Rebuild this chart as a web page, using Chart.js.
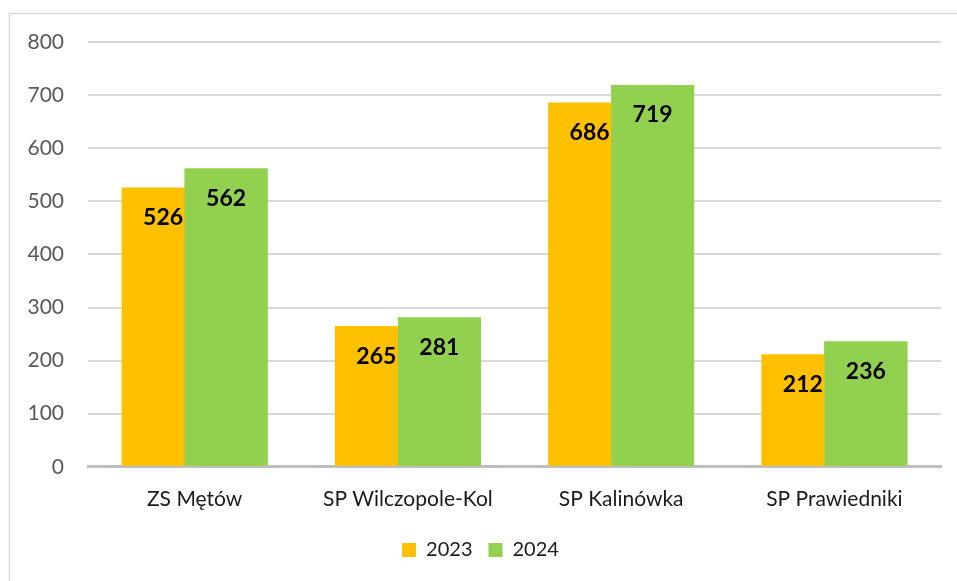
<!DOCTYPE html>
<html>
<head>
<meta charset="utf-8">
<script src="https://cdn.jsdelivr.net/npm/chart.js@4/dist/chart.umd.min.js"></script>
<style>
  html, body { margin: 0; padding: 0; background: #fff; }
  #wrap { width: 957px; height: 581px; position: relative; }
</style>
</head>
<body>
<div id="wrap"><canvas id="barChart" width="957" height="581"></canvas></div>
<script>
const schools = ['ZS Mętów', 'SP Wilczopole-Kol', 'SP Kalinówka', 'SP Prawiedniki'];
const values2023 = [526, 265, 686, 212];
const values2024 = [562, 281, 719, 236];
const yTicks = [0, 100, 200, 300, 400, 500, 600, 700, 800];

const FONT = 'Lato, "Open Sans", sans-serif';

// outer frame like the office chart area
const framePlugin = {
    id: 'frame',
    beforeDraw(chart) {
        const ctx = chart.ctx;
        ctx.save();
        ctx.strokeStyle = '#d9d9d9';
        ctx.lineWidth = 1.5;
        ctx.strokeRect(9.5, 13.5, 1200, 1000);
        ctx.restore();
    }
};

// green bars overlap the orange ones, then value labels go on top
const valueLabels = {
    id: 'valueLabels',
    afterDatasetsDraw(chart) {
        const ctx = chart.ctx;
        chart.getDatasetMeta(1).data.forEach(bar => bar.draw(ctx));
        ctx.save();
        ctx.font = 'bold 23px ' + FONT;
        ctx.fillStyle = '#000';
        ctx.textAlign = 'center';
        ctx.textBaseline = 'middle';
        chart.data.datasets.forEach((ds, i) => {
            chart.getDatasetMeta(i).data.forEach((bar, j) => {
                ctx.fillText(ds.data[j], bar.x, bar.y + 30);
            });
        });
        ctx.restore();
    }
};

const config = {
    type: 'bar',
    data: {
        labels: schools,
        datasets: [
            {
                label: '2023',
                data: values2023,
                backgroundColor: '#FFC000',
                categoryPercentage: 0.591,
                barPercentage: 1.317
            },
            {
                label: '2024',
                data: values2024,
                backgroundColor: '#92D050',
                categoryPercentage: 0.591,
                barPercentage: 1.317
            }
        ]
    },
    options: {
        responsive: false,
        animation: false,
        layout: {
            padding: { top: 42, left: 20, right: 16, bottom: 11 }
        },
        scales: {
            x: {
                grid: { display: false },
                border: { color: '#bfbfbf', width: 3 },
                ticks: {
                    color: '#1a1a1a',
                    font: { family: FONT, size: 21 },
                    padding: 12
                }
            },
            y: {
                min: 0,
                max: 800,
                afterBuildTicks(scale) {
                    scale.ticks = yTicks.map(v => ({ value: v }));
                },
                afterFit(scale) {
                    scale.width = 68;
                },
                border: { display: false },
                grid: { color: '#d9d9d9', lineWidth: 2, drawTicks: false },
                ticks: {
                    color: '#595959',
                    font: { family: FONT, size: 21 },
                    padding: 24
                }
            }
        },
        plugins: {
            legend: {
                position: 'bottom',
                labels: {
                    boxWidth: 14,
                    boxHeight: 14,
                    color: '#1a1a1a',
                    font: { family: FONT, size: 20 },
                    padding: 16
                }
            },
            tooltip: { enabled: false }
        }
    },
    plugins: [framePlugin, valueLabels]
};

new Chart(document.getElementById('barChart').getContext('2d'), config);
</script>
</body>
</html>
